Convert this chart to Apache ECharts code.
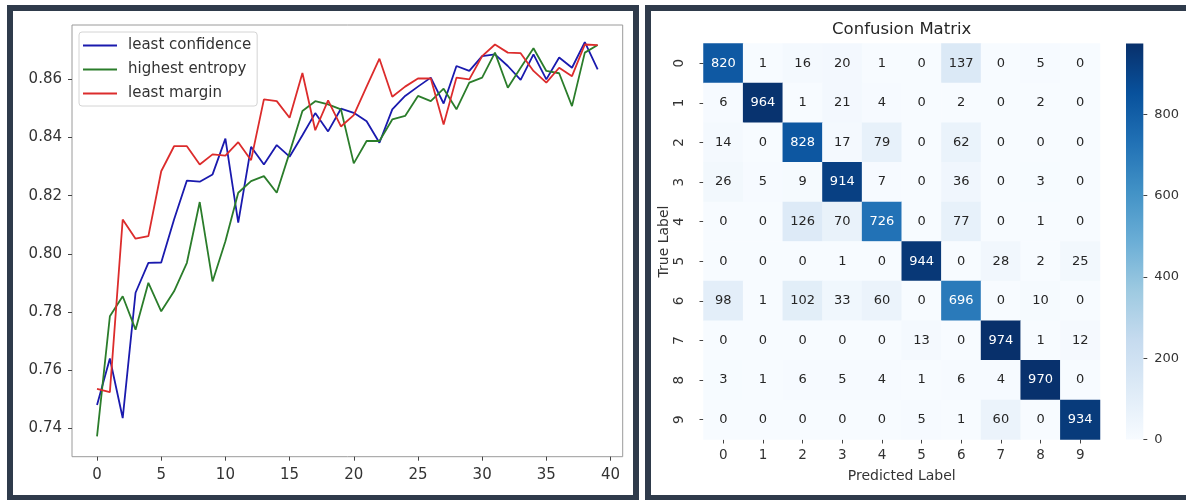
<!DOCTYPE html>
<html>
<head>
<meta charset="utf-8">
<script src="https://cdn.jsdelivr.net/npm/echarts@6/dist/echarts.min.js"></script>
<style>html,body{margin:0;padding:0;background:#fff}#c{width:1186px;height:500px}</style>
</head>
<body>
<div id="c"></div>
<script>
// ---------- Left chart data ----------
const epochs = [0,1,2,3,4,5,6,7,8,9,10,11,12,13,14,15,16,17,18,19,20,21,22,23,24,25,26,27,28,29,30,31,32,33,34,35,36,37,38,39];
const leastConfidence = [0.748,0.764,0.7435,0.7866,0.7969,0.797,0.8118,0.8252,0.8248,0.8273,0.8396,0.8107,0.8368,0.8307,0.8374,0.8334,0.8408,0.8484,0.8421,0.8499,0.8485,0.8456,0.8382,0.8497,0.8543,0.8575,0.8606,0.8517,0.8646,0.8629,0.868,0.8686,0.8646,0.8598,0.8686,0.86,0.8675,0.864,0.8728,0.8634];
const highestEntropy = [0.7372,0.7785,0.7854,0.7739,0.79,0.7802,0.7871,0.7969,0.8178,0.7905,0.8043,0.821,0.825,0.8267,0.821,0.8348,0.8491,0.8525,0.8514,0.8497,0.8311,0.8388,0.8388,0.8462,0.8474,0.8543,0.8525,0.8568,0.8497,0.8589,0.8606,0.8692,0.8571,0.864,0.8707,0.8629,0.8621,0.8508,0.8692,0.8718];
const leastMargin = [0.7535,0.7524,0.8118,0.8052,0.8061,0.8284,0.837,0.837,0.8307,0.8342,0.8338,0.8384,0.8322,0.8531,0.8525,0.8468,0.8622,0.8425,0.8528,0.8438,0.8477,0.8575,0.8671,0.854,0.8575,0.8603,0.8603,0.8445,0.8606,0.86,0.868,0.872,0.8692,0.869,0.8629,0.8589,0.864,0.8611,0.872,0.8718];
const seriesNames = ['least confidence','highest entropy','least margin'];
const xTicks = [0,5,10,15,20,25,30,35,40];
const yTicks = [0.74,0.76,0.78,0.80,0.82,0.84,0.86];

// ---------- Confusion matrix data ----------
const classes = ['0','1','2','3','4','5','6','7','8','9'];
const row0 = [820,1,16,20,1,0,137,0,5,0];
const row1 = [6,964,1,21,4,0,2,0,2,0];
const row2 = [14,0,828,17,79,0,62,0,0,0];
const row3 = [26,5,9,914,7,0,36,0,3,0];
const row4 = [0,0,126,70,726,0,77,0,1,0];
const row5 = [0,0,0,1,0,944,0,28,2,25];
const row6 = [98,1,102,33,60,0,696,0,10,0];
const row7 = [0,0,0,0,0,13,0,974,1,12];
const row8 = [3,1,6,5,4,1,6,4,970,0];
const row9 = [0,0,0,0,0,5,1,60,0,934];
const colorbarTicks = [0,200,400,600,800];

const FONT = 'DejaVu Sans';
const blues = ['#f7fbff','#deebf7','#c6dbef','#9ecae1','#6baed6','#4292c6','#2171b5','#08519c','#08306b'];
const rows = [row0,row1,row2,row3,row4,row5,row6,row7,row8,row9];
const vmax = Math.max(...rows.map(r => Math.max(...r)));
const heatData = [];
rows.forEach((r, ri) => r.forEach((v, ci) => {
  heatData.push({value:[ci, ri, v], label:{color: v > 0.47 * vmax ? '#ffffff' : '#262626'}});
}));

const lineColors = ['#1a1aae','#2b7d2b','#dc2c2c'];
const lineSets = [leastConfidence, highestEntropy, leastMargin];
const lineSeries = lineSets.map((arr, k) => ({
  type:'line', name: seriesNames[k], xAxisIndex:0, yAxisIndex:0,
  data: epochs.map((e, i) => [e, arr[i]]),
  symbol:'none', showSymbol:false,
  lineStyle:{color: lineColors[k], width:1.8}, itemStyle:{color: lineColors[k]},
  z: 3 + k
}));

const chart = echarts.init(document.getElementById('c'), null, {renderer:'canvas'});
chart.setOption({
  animation:false,
  backgroundColor:'#ffffff',
  textStyle:{fontFamily:FONT},
  graphic:[
    {type:'rect', z:-10, silent:true, shape:{x:10, y:8, width:626, height:490}, style:{fill:'#ffffff', stroke:'#2f3b4b', lineWidth:6}},
    {type:'rect', z:-10, silent:true, shape:{x:648, y:8, width:546, height:490}, style:{fill:'#ffffff', stroke:'#2f3b4b', lineWidth:6}},
    {type:'text', z:10, x:901.7, y:30, style:{text:'Confusion Matrix', fontFamily:FONT, fontSize:16.5, fill:'#262626', textAlign:'center', textVerticalAlign:'middle'}}
  ],
  legend:{
    data: seriesNames, orient:'vertical', left:79, top:32,
    icon:'rect', itemWidth:34, itemHeight:2, itemGap:9,
    padding:[6,6,5,4], borderColor:'#d4d4d4', borderWidth:1, borderRadius:3,
    backgroundColor:'rgba(255,255,255,0.85)',
    textStyle:{fontFamily:FONT, fontSize:15, color:'#333', padding:[0,0,0,6]},
    selectedMode:false
  },
  grid:[
    {left:72, top:25, width:550.7, height:431.7, show:true, borderColor:'#9a9a9a', borderWidth:1, backgroundColor:'transparent', outerBoundsMode:'none'},
    {left:703.5, top:43.5, width:396.5, height:396, outerBoundsMode:'none'},
    {left:1126, top:43.5, width:17.3, height:396, outerBoundsMode:'none'}
  ],
  xAxis:[
    {type:'value', gridIndex:0, min:-1.95, max:40.95, position:'bottom',
     axisLine:{show:false, onZero:false}, splitLine:{show:false},
     axisTick:{show:true, length:4, customValues:xTicks, lineStyle:{color:'#444'}},
     axisLabel:{customValues:xTicks, fontSize:15, color:'#333', margin:11, fontFamily:FONT}},
    {type:'category', gridIndex:1, data:classes, position:'bottom',
     axisLine:{show:false, onZero:false}, splitLine:{show:false},
     axisTick:{show:true, alignWithLabel:true, length:4, lineStyle:{color:'#444'}},
     axisLabel:{fontSize:13.5, color:'#333', margin:9, fontFamily:FONT},
     name:'Predicted Label', nameLocation:'middle', nameGap:30,
     nameTextStyle:{fontSize:14, color:'#333', fontFamily:FONT}},
    {type:'category', gridIndex:2, data:['cb'], show:false}
  ],
  yAxis:[
    {type:'value', gridIndex:0, min:0.7302, max:0.8787, position:'left',
     axisLine:{show:false, onZero:false}, splitLine:{show:false},
     axisTick:{show:true, length:4, customValues:yTicks, lineStyle:{color:'#444'}},
     axisLabel:{customValues:yTicks, fontSize:15, color:'#333', margin:10, fontFamily:FONT, formatter:v => v.toFixed(2)}},
    {type:'category', gridIndex:1, data:classes, inverse:true, position:'left',
     axisLine:{show:false, onZero:false}, splitLine:{show:false},
     axisTick:{show:true, alignWithLabel:true, length:4, lineStyle:{color:'#444'}},
     axisLabel:{fontSize:13.5, color:'#333', margin:17, rotate:90, fontFamily:FONT},
     name:'True Label', nameLocation:'middle', nameGap:31, nameRotate:90,
     nameTextStyle:{fontSize:14, color:'#333', fontFamily:FONT}},
    {type:'value', gridIndex:2, min:0, max:vmax, position:'right',
     axisLine:{show:false, onZero:false}, splitLine:{show:false},
     axisTick:{show:true, length:4, customValues:colorbarTicks, lineStyle:{color:'#444'}},
     axisLabel:{customValues:colorbarTicks, fontSize:13, color:'#333', margin:11, fontFamily:FONT}}
  ],
  visualMap:{show:false, type:'continuous', min:0, max:vmax, seriesIndex:3, inRange:{color:blues}},
  series:[
    ...lineSeries,
    {type:'heatmap', xAxisIndex:1, yAxisIndex:1, data:heatData,
     label:{show:true, fontSize:13, fontFamily:FONT},
     itemStyle:{borderWidth:0}, emphasis:{disabled:true}},
    {type:'bar', xAxisIndex:2, yAxisIndex:2, data:[vmax], barWidth:'100%', silent:true,
     itemStyle:{color:{type:'linear', x:0, y:0, x2:0, y2:1,
       colorStops: blues.slice().reverse().map((c, i, a) => ({offset: i / (a.length - 1), color: c}))}}}
  ]
});
</script>
</body>
</html>
